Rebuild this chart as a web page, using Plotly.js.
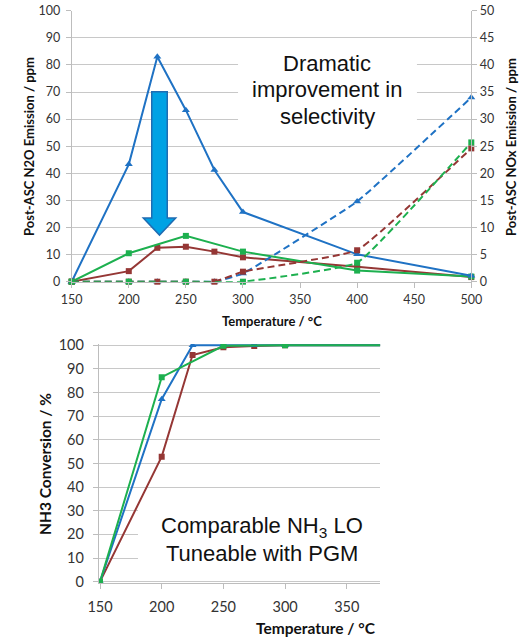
<!DOCTYPE html>
<html>
<head>
<meta charset="utf-8">
<script src="https://cdn.plot.ly/plotly-3.0.1.min.js"></script>
<style>html,body{margin:0;padding:0;background:#fff;}#chart{width:530px;height:638px;}</style>
</head>
<body>
<div id="chart"></div>
<script>
// ---- Data ----
const tempsAll = [150, 200, 225, 250, 275, 300, 400, 500];
const tempsGreen = [150, 200, 250, 300, 400, 500];

// Top chart: N2O emission (ppm, left axis, solid)
const n2oBlue  = [0, 43.3, 83.0, 63.3, 41.2, 25.7, 10.1, 2.2];
const n2oRed   = [0, 3.9, 12.5, 12.9, 11.1, 9.0, 5.5, 1.7];
const n2oGreen = [0, 10.5, 16.9, 11.1, 4.1, 1.9];

// Top chart: NOx emission (ppm, right axis, dashed)
const noxBlue  = [0, 0, 0, 0, 0, 1.5, 14.8, 34.0];
const noxRed   = [0, 0, 0, 0, 0, 1.85, 5.8, 24.6];
const noxGreen = [0, 0, 0, 0, 3.5, 25.7];

// Bottom chart: NH3 conversion (%)
const nh3Blue  = [0, 77.2, 100, 100, 100, 100, 100, 100];
const nh3Red   = [0, 52.9, 95.9, 99.2, 99.7, 100, 100, 100];
const nh3Green = [0, 86.5, 99.8, 100, 100, 100];

const topTicksX = [150, 200, 250, 300, 350, 400, 450, 500];
const botTicksX = [150, 200, 250, 300, 350];
const botTicksY = [0, 10, 20, 30, 40, 50, 60, 70, 80, 90, 100];

// ---- Styles ----
const BLUE = '#1F72C4', RED = '#953735', GREEN = '#1DB04F';
const GRID = '#C8C8C8', AXL = '#BDBDBD';
const FAM = 'Lato, "Open Sans", sans-serif';
const TICKTOP = {family: FAM, size: 12.5, color: '#333333'};
const TICKBOT = {family: FAM, size: 14.5, color: '#333333'};
const TITLEFONT = {family: FAM, size: 13, color: '#111111', weight: 'bold'};
const TITLEBOT = {family: FAM, size: 15.5, color: '#111111', weight: 'bold'};
const CALLOUT = {family: 'Liberation Sans, Arial, sans-serif', size: 22, color: '#111111'};
const DASH = '7px,4px';

function solid(x, y, color, sym, xa, ya, clip) {
  return {x: x, y: y, type: 'scatter', mode: 'lines+markers', xaxis: xa, yaxis: ya,
    cliponaxis: clip, line: {color: color, width: 2},
    marker: {color: color, symbol: sym, size: sym === 'square' ? 6 : 7}, showlegend: false, hoverinfo: 'skip'};
}
function dashed(x, y, color, sym) {
  return {x: x, y: y, type: 'scatter', mode: 'lines+markers', xaxis: 'x', yaxis: 'y2',
    cliponaxis: false, line: {color: color, width: 2, dash: DASH, shape: 'spline', smoothing: 0.3},
    marker: {color: color, symbol: sym, size: sym === 'square' ? 6 : 7}, showlegend: false, hoverinfo: 'skip'};
}

const data = [
  solid(tempsAll, n2oRed, RED, 'square', 'x', 'y', false),
  solid(tempsGreen, n2oGreen, GREEN, 'square', 'x', 'y', false),
  solid(tempsAll, n2oBlue, BLUE, 'triangle-up', 'x', 'y', false),
  dashed(tempsAll, noxBlue, BLUE, 'triangle-up'),
  dashed(tempsAll, noxRed, RED, 'square'),
  dashed(tempsGreen, noxGreen, GREEN, 'square'),
  solid(tempsAll, nh3Red, RED, 'square', 'x2', 'y3', true),
  solid(tempsAll, nh3Blue, BLUE, 'triangle-up', 'x2', 'y3', true),
  solid(tempsGreen, nh3Green, GREEN, 'square', 'x2', 'y3', true)
];

const W = 530, H = 638;
const px = v => v / W, py = v => 1 - v / H;

const axBase = {showline: true, linecolor: AXL, linewidth: 1, ticks: 'outside', ticklen: 5,
  tickcolor: AXL, zeroline: false, fixedrange: true};

function ann(x, y, text, font, angle) {
  return {xref: 'paper', yref: 'paper', x: px(x), y: py(y), xanchor: 'center', yanchor: 'middle',
    text: text, showarrow: false, font: font, textangle: angle || 0};
}

const layout = {
  width: W, height: H, margin: {l: 0, r: 0, t: 0, b: 0},
  paper_bgcolor: '#ffffff', plot_bgcolor: 'rgba(0,0,0,0)',
  xaxis: Object.assign({}, axBase, {domain: [px(71.7), px(471.3)], range: [150, 500],
    tickvals: topTicksX, showgrid: false, anchor: 'y', tickfont: TICKTOP, ticklabelstandoff: 1}),
  yaxis: Object.assign({}, axBase, {domain: [py(281.7), py(10.7)], range: [0, 100], dtick: 10,
    showgrid: true, gridcolor: GRID, anchor: 'x', tickfont: TICKTOP, ticklabelstandoff: 3}),
  yaxis2: Object.assign({}, axBase, {domain: [py(281.7), py(10.7)], range: [0, 50], dtick: 5,
    overlaying: 'y', side: 'right', showgrid: false, anchor: 'x', tickfont: TICKTOP}),
  xaxis2: Object.assign({}, axBase, {domain: [px(98.77), px(380.1)], range: [149, 377],
    tickvals: botTicksX, showgrid: false, anchor: 'y3', tickfont: TICKBOT, ticklabelstandoff: 5}),
  yaxis3: Object.assign({}, axBase, {domain: [py(583.1), py(343.9)], range: [-0.6, 100.6],
    tickvals: botTicksY, showgrid: true, gridcolor: GRID, anchor: 'x2', tickfont: TICKBOT, ticklabelstandoff: 6}),
  shapes: [
    // white text boxes hiding gridlines behind the callouts
    {type: 'rect', xref: 'x', yref: 'y', x0: 295.7, x1: 452.4, y0: 54.1, y1: 87.3,
      fillcolor: '#ffffff', line: {width: 0}, layer: 'between'},
    {type: 'rect', xref: 'x2', yref: 'y3', x0: 180.8, x1: 377, y0: 1.2, y1: 39.2,
      fillcolor: '#ffffff', line: {width: 0}, layer: 'between'},
    // big blue arrow
    {type: 'path', xref: 'x', yref: 'y', layer: 'above',
      path: 'M 220.1 70.1 L 233.7 70.1 L 233.7 23.5 L 241.1 23.5 L 226.9 17.2 L 212.7 23.5 L 220.1 23.5 Z',
      fillcolor: '#00A2E4', line: {color: '#1F6CB2', width: 1.5}}
  ],
  annotations: [
    ann(327, 63, 'Dramatic', CALLOUT),
    ann(327, 90, 'improvement in', CALLOUT),
    ann(327, 116, 'selectivity', CALLOUT),
    ann(262, 527, 'Comparable NH<sub>3</sub> LO', CALLOUT),
    ann(262, 553, 'Tuneable with PGM', CALLOUT),
    ann(29, 147, 'Post-ASC N2O Emission / ppm', TITLEFONT, -90),
    ann(511, 147, 'Post-ASC NOx Emission / ppm', TITLEFONT, -90),
    ann(272, 321, 'Temperature / °C', TITLEFONT),
    ann(45, 464, 'NH3 Conversion / %', TITLEBOT, -90),
    ann(316, 628, 'Temperature / °C', TITLEBOT)
  ]
};

Plotly.newPlot('chart', data, layout, {staticPlot: true, displayModeBar: false});
</script>
</body>
</html>
